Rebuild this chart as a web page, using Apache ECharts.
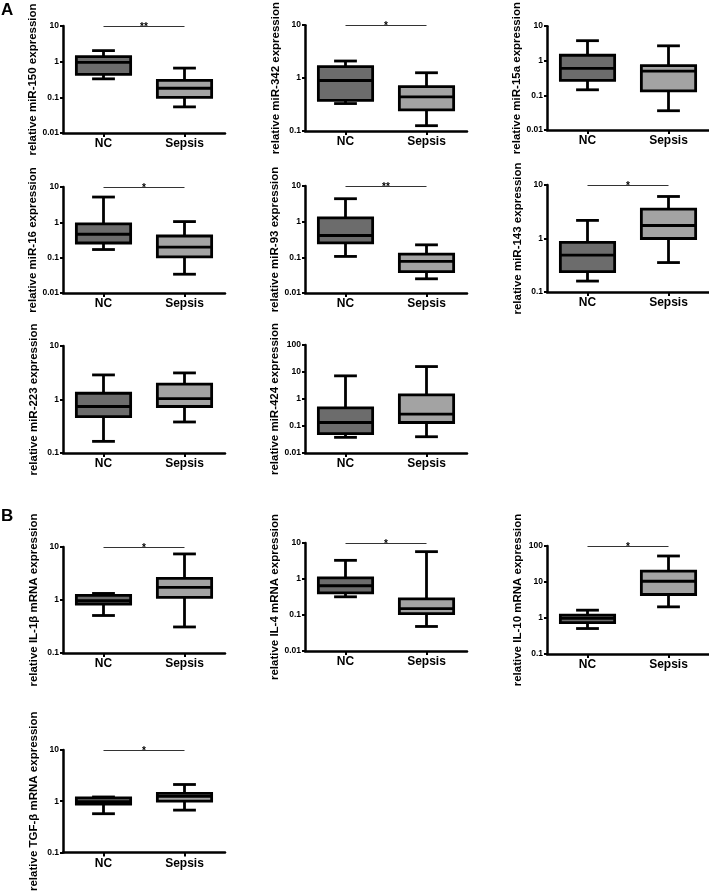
<!DOCTYPE html>
<html>
<head>
<meta charset="utf-8">
<script src="https://cdn.jsdelivr.net/npm/echarts@6/dist/echarts.min.js"></script>
<style>
html,body{margin:0;padding:0;background:#fff;}
#chart{width:709px;height:893px;}
</style>
</head>
<body>
<div id="chart"></div>
<script>
// ---- data ----
const categories = ['NC', 'Sepsis'];
const yTitles = [
  'relative miR-150 expression', 'relative miR-342 expression', 'relative miR-15a expression',
  'relative miR-16 expression', 'relative miR-93 expression', 'relative miR-143 expression',
  'relative miR-223 expression', 'relative miR-424 expression',
  'relative IL-1\u03b2 mRNA expression', 'relative IL-4 mRNA expression', 'relative IL-10 mRNA expression',
  'relative TGF-\u03b2 mRNA expression'
];
// [min, Q1, median, Q3, max] for NC and Sepsis
const mir150 = [[0.33, 0.44, 0.95, 1.39, 2.04], [0.054, 0.10, 0.18, 0.30, 0.66]];
const mir342 = [[0.33, 0.38, 0.90, 1.65, 2.1], [0.126, 0.25, 0.44, 0.69, 1.26]];
const mir15a = [[0.145, 0.27, 0.6, 1.44, 3.8], [0.036, 0.135, 0.5, 0.72, 2.7]];
const mir16 = [[0.17, 0.26, 0.46, 0.91, 5.2], [0.034, 0.105, 0.2, 0.41, 1.05]];
const mir93 = [[0.106, 0.255, 0.41, 1.27, 4.4], [0.025, 0.040, 0.077, 0.123, 0.224]];
const mir143 = [[0.16, 0.24, 0.49, 0.85, 2.18], [0.355, 1.0, 1.75, 3.55, 6.1]];
const mir223 = [[0.165, 0.48, 0.74, 1.31, 2.88], [0.38, 0.74, 1.04, 1.93, 3.14]];
const mir424 = [[0.038, 0.052, 0.135, 0.47, 7.2], [0.04, 0.135, 0.275, 1.43, 15.9]];
const il1b = [[0.51, 0.84, 0.97, 1.22, 1.33], [0.31, 1.12, 1.73, 2.55, 7.4]];
const il4 = [[0.32, 0.41, 0.65, 1.07, 3.3], [0.048, 0.109, 0.15, 0.28, 5.75]];
const il10 = [[0.51, 0.74, 0.98, 1.2, 1.65], [2.04, 4.5, 10.5, 20, 52.8]];
const tgfb = [[0.57, 0.88, 0.98, 1.16, 1.21], [0.67, 1.0, 1.24, 1.42, 2.12]];
const panelData = [mir150, mir342, mir15a, mir16, mir93, mir143, mir223, mir424, il1b, il4, il10, tgfb];
const axisMin = [0.01, 0.1, 0.01, 0.01, 0.01, 0.1, 0.1, 0.01, 0.1, 0.01, 0.1, 0.1];
const axisMax = [10, 10, 10, 10, 10, 10, 10, 100, 10, 10, 100, 10];
const sigLabels = ['**', '*', '', '*', '**', '*', '', '', '*', '*', '*', '*'];

// ---- layout ----
const gridPos = [
  [63, 26, 107], [305, 23, 108], [547, 23, 107],
  [63, 187, 106], [305, 186, 107], [547, 185, 107],
  [63, 346, 107], [305, 345, 108],
  [63, 547, 106], [305, 543, 108], [547, 546, 108],
  [63, 750, 106]
];
const gridWidth = 162;
const boxColors = ['#6c6c6c', '#a3a3a3'];
const FONT = '"Liberation Sans", Arial, sans-serif';

function fmt(v) {
  return v >= 1 ? String(Math.round(v)) : String(parseFloat(Number(v).toPrecision(2)));
}

function renderBox(params, api) {
  const x = api.value(0);
  const pMin = api.coord([x, api.value(1)]);
  const pQ1 = api.coord([x, api.value(2)]);
  const pMed = api.coord([x, api.value(3)]);
  const pQ3 = api.coord([x, api.value(4)]);
  const pMax = api.coord([x, api.value(5)]);
  const band = Math.abs(api.coord([1, api.value(3)])[0] - api.coord([0, api.value(3)])[0]);
  const bw = band * 0.67;
  const cw = bw * 0.42;
  const cx = pMed[0];
  const ls = { stroke: '#000', lineWidth: 2.8 };
  return {
    type: 'group',
    children: [
      { type: 'line', shape: { x1: cx, y1: pQ3[1], x2: cx, y2: pMax[1] }, style: ls },
      { type: 'line', shape: { x1: cx, y1: pQ1[1], x2: cx, y2: pMin[1] }, style: ls },
      { type: 'line', shape: { x1: cx - cw / 2, y1: pMax[1], x2: cx + cw / 2, y2: pMax[1] }, style: ls },
      { type: 'line', shape: { x1: cx - cw / 2, y1: pMin[1], x2: cx + cw / 2, y2: pMin[1] }, style: ls },
      { type: 'rect', shape: { x: cx - bw / 2, y: pQ3[1], width: bw, height: pQ1[1] - pQ3[1] },
        style: { fill: boxColors[x], stroke: '#000', lineWidth: 2.8 } },
      { type: 'line', shape: { x1: cx - bw / 2, y1: pMed[1], x2: cx + bw / 2, y2: pMed[1] }, style: ls }
    ]
  };
}

const grids = [], xAxes = [], yAxes = [], series = [];
panelData.forEach(function (d, i) {
  const g = gridPos[i];
  grids.push({ left: g[0], top: g[1], width: gridWidth, height: g[2] });
  xAxes.push({
    type: 'category', gridIndex: i, data: categories,
    axisLine: { show: true, lineStyle: { color: '#000', width: 2.5 } },
    axisTick: { show: true, alignWithLabel: true, length: 4, lineStyle: { color: '#000', width: 2 } },
    axisLabel: { color: '#000', fontSize: 12, fontWeight: 'bold', fontFamily: FONT, margin: 5 },
    splitLine: { show: false }
  });
  yAxes.push({
    type: 'log', logBase: 10, gridIndex: i, min: axisMin[i], max: axisMax[i],
    name: yTitles[i], nameLocation: 'middle', nameRotate: 90, nameGap: 23,
    nameTextStyle: { color: '#000', fontSize: 11.5, fontWeight: 'bold', fontFamily: FONT },
    axisLine: { show: true, lineStyle: { color: '#000', width: 2.5 } },
    axisTick: { show: true, length: 3, lineStyle: { color: '#000', width: 2 } },
    axisLabel: { color: '#000', fontSize: 8.5, fontWeight: 'bold', fontFamily: FONT, margin: 4, formatter: fmt },
    splitLine: { show: false },
    minorTick: { show: false }
  });
  series.push({
    type: 'custom', xAxisIndex: i, yAxisIndex: i, clip: false,
    renderItem: renderBox,
    encode: { x: 0, y: [1, 2, 3, 4, 5] },
    data: [[0].concat(d[0]), [1].concat(d[1])]
  });
  const sigY = axisMax[i];
  series.push({
    type: 'line', xAxisIndex: i, yAxisIndex: i, data: [], clip: false,
    markLine: {
      silent: true, symbol: 'none', animation: false,
      lineStyle: { color: '#333', width: 1, type: 'solid' },
      label: { show: true, position: 'middle', formatter: sigLabels[i], color: '#000', fontSize: 10, fontWeight: 'bold', fontFamily: FONT, distance: -6 },
      emphasis: { disabled: true },
      data: sigLabels[i] ? [[{ coord: ['NC', sigY] }, { coord: ['Sepsis', sigY] }]] : []
    }
  });
});

const chart = echarts.init(document.getElementById('chart'), null, { renderer: 'canvas' });
chart.setOption({
  backgroundColor: '#fff',
  animation: false,
  grid: grids,
  xAxis: xAxes,
  yAxis: yAxes,
  series: series,
  graphic: [
    { type: 'text', left: 1, top: 2, style: { text: 'A', fontSize: 17, fontWeight: 'bold', fontFamily: FONT, fill: '#000' } },
    { type: 'text', left: 1, top: 508, style: { text: 'B', fontSize: 17, fontWeight: 'bold', fontFamily: FONT, fill: '#000' } }
  ]
});
</script>
</body>
</html>
